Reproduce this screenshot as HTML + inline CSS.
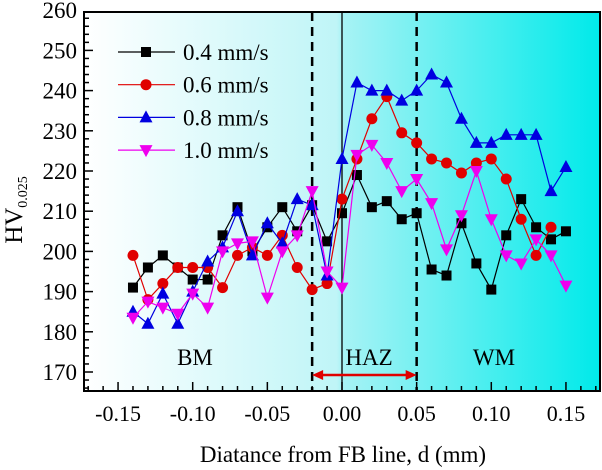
<!DOCTYPE html>
<html><head><meta charset="utf-8"><style>
body{margin:0;background:#fff}
svg{display:block}
svg text{font-family:"Liberation Serif","Times New Roman",serif}
</style></head><body>
<svg id="chart" width="602" height="470" viewBox="0 0 602 470" font-family="Liberation Serif, serif">
<defs>
<linearGradient id="bg" x1="0" x2="1" y1="0" y2="0">
<stop offset="0" stop-color="#ffffff"/>
<stop offset="0.49" stop-color="#bff5f7"/>
<stop offset="0.5" stop-color="#a8f3f5"/>
<stop offset="1" stop-color="#00eaea"/>
</linearGradient>
</defs>
<g id="plot"></g>
</svg>
<script>
const xs=[-0.14,-0.13,-0.12,-0.11,-0.10,-0.09,-0.08,-0.07,-0.06,-0.05,-0.04,-0.03,-0.02,-0.01,0.00,0.01,0.02,0.03,0.04,0.05,0.06,0.07,0.08,0.09,0.10,0.11,0.12,0.13,0.14,0.15];
const s04=[191,196,199,196,193,193,204,211,200,206,211,205,211.5,202.5,209.5,219,211,212.5,208,209.5,195.5,194,207,197,190.5,204,213,206,203,205];
const s06=[199,188,192,196,196,196,191,199,201,199,204,196,190.5,192,213,223,233,238.5,229.5,227,223,222,219.5,222,223,218,208,199,206];
const s08=[185,182,189.5,182,190,197.5,201,210,199,207,202,213,211.5,194,223,242,240,240,237.5,240,244,242,233,227,227,229,229,229,215,221];
const s10=[183.5,187.5,186,184.5,189.5,186,200,202,202.5,188.5,200,204,215,195,191,224,226.5,222,215,218,212,200.5,209,220,208,199,197,203,199,191.5];
const xTicks=[-0.15,-0.10,-0.05,0.00,0.05,0.10,0.15];
const xTickLabels=["-0.15","-0.10","-0.05","0.00","0.05","0.10","0.15"];
const yTicks=[170,180,190,200,210,220,230,240,250,260];
const legendLabels=["0.4 mm/s","0.6 mm/s","0.8 mm/s","1.0 mm/s"];

const L=84,R=600,T=12,B=391;
const X=d=>342+d*1493;
const Y=v=>372-(v-170)*4.02;
const NS="http://www.w3.org/2000/svg";
const FF='"Liberation Serif", serif';
const g=document.getElementById('plot');
function mk(tag,attrs,parent){const e=document.createElementNS(NS,tag);for(const k in attrs)e.setAttribute(k,attrs[k]);if(tag==='text')e.setAttribute('font-family',FF);(parent||g).appendChild(e);return e;}

let e=mk('rect',{x:L,y:T,width:R-L,height:B-T,fill:'url(#bg)'});



e=mk('line',{x1:X(-0.02),x2:X(-0.02),y1:T,y2:B,stroke:'#000','stroke-width':2.5,'stroke-dasharray':'9,6'});


e=mk('line',{x1:X(0.05),x2:X(0.05),y1:T,y2:B,stroke:'#000','stroke-width':2.5,'stroke-dasharray':'9,6'});


e=mk('line',{x1:X(0),x2:X(0),y1:T,y2:B,stroke:'#000','stroke-width':1.3});



e=mk('line',{x1:X(-0.02)+8,x2:X(0.05)-8,y1:375,y2:375,stroke:'#e00000','stroke-width':2.5});


e=mk('polygon',{points:`${X(-0.02)},375 ${X(-0.02)+11},370 ${X(-0.02)+11},380`,fill:'#e00000'});


e=mk('polygon',{points:`${X(0.05)},375 ${X(0.05)-11},370 ${X(0.05)-11},380`,fill:'#e00000'});



[['BM',195,'bm-label'],['HAZ',369,'haz-label'],['WM',494,'wm-label']].forEach(([t,x,n])=>{
 const el=mk('text',{x:x,y:365,'font-size':23,'text-anchor':'middle',fill:'#000'});el.textContent=t;
 
 
});

const series=[[s04,'#000','square','series-0-4'],[s06,'#e00000','circle','series-0-6'],[s08,'#0000e0','up','series-0-8'],[s10,'#ee00ee','down','series-1-0']];
function marker(type,cx,cy,col,parent){
 let m;
 if(type==='square')m=mk('rect',{x:cx-5,y:cy-5,width:10,height:10,fill:col},parent);
 else if(type==='circle')m=mk('circle',{cx:cx,cy:cy,r:5.5,fill:col},parent);
 else if(type==='up')m=mk('polygon',{points:`${cx},${cy-7} ${cx-6.5},${cy+5} ${cx+6.5},${cy+5}`,fill:col},parent);
 else m=mk('polygon',{points:`${cx},${cy+7} ${cx-6.5},${cy-5} ${cx+6.5},${cy-5}`,fill:col},parent);
 return m;
}
series.forEach(([vals,col,type,name])=>{
 const grp=mk('g',{});
 
 
 const pts=vals.map((v,i)=>X(xs[i])+','+Y(v)).join(' ');
 const pl=mk('polyline',{points:pts,fill:'none',stroke:col,'stroke-width':1.2},grp);
 
 
 vals.forEach((v,i)=>{const m=marker(type,X(xs[i]),Y(v),col,grp);
  
  });
});

series.forEach(([vals,col,type,name],i)=>{
 const y=52+i*32.7;
 const lg=mk('g',{});
 
 
 mk('line',{x1:118,x2:175,y1:y,y2:y,stroke:col,'stroke-width':1.2},lg);
 marker(type,146,y,col,lg);
 const t=mk('text',{x:183,y:y+8,'font-size':23,fill:'#000'},lg);t.textContent=legendLabels[i];
});

e=mk('rect',{x:L,y:T,width:R-L,height:B-T,fill:'none',stroke:'#000','stroke-width':2});



for(let k=-17;k<=17;k++){const d=k/100;const x=X(d);if(x<L||x>R)continue;
 const major=k%5===0;
 mk('line',{x1:x,x2:x,y1:B,y2:B-(major?9:5),stroke:'#000','stroke-width':1.5});}
xTicks.forEach((d,i)=>{const t=mk('text',{x:X(d),y:421,'font-size':22,'text-anchor':'middle',fill:'#000'});t.textContent=xTickLabels[i];
 
 });
for(let v=166;v<=260;v+=2){const y=Y(v);if(y<T||y>B)continue;
 const major=v%10===0;
 mk('line',{x1:L,x2:L+(major?9:5),y1:y,y2:y,stroke:'#000','stroke-width':1.5});}
yTicks.forEach(v=>{const t=mk('text',{x:77,y:Y(v)+8,'font-size':23,'text-anchor':'end',fill:'#000'});t.textContent=v;
 
 });

e=mk('text',{x:343,y:462,'font-size':23,'text-anchor':'middle',fill:'#000'});e.textContent='Diatance from FB line, d (mm)';


e=mk('text',{transform:'translate(22,210) rotate(-90)','font-size':25,'text-anchor':'middle',fill:'#000'});


const t1=document.createElementNS(NS,'tspan');t1.textContent='HV';e.appendChild(t1);
const t2=document.createElementNS(NS,'tspan');t2.setAttribute('font-size','14');t2.setAttribute('dy','5');t2.textContent='0.025';e.appendChild(t2);
</script>
</body></html>
